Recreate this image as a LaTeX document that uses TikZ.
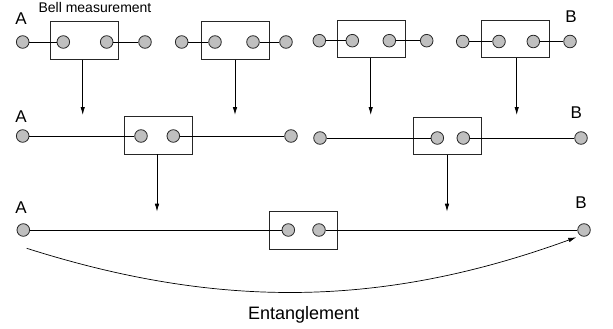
\documentclass[tikz,border=0pt]{standalone}
\usepackage{fontspec}
\setmainfont{Liberation Sans}
\usetikzlibrary{positioning,arrows.meta,calc}

\begin{document}
\begin{tikzpicture}[>={Latex[length=8pt,width=4.5pt]},x=1pt,y=-1pt,line width=0.8pt,
  qubit/.style={circle,draw=black!85,fill=gray!50,minimum size=12.6pt,inner sep=0pt},
  bsm/.style={draw=black!85,minimum width=68pt,minimum height=37.5pt,inner sep=0pt},
  lbl/.style={font=\fontsize{17}{17}\selectfont,anchor=base}]
\useasboundingbox (0,0) rectangle (613,329);

% first row: four pairs, four Bell measurements
\node[bsm] (M1) at (84,40.5) {};
\node[bsm] (M2) at (235.5,40.5) {};
\node[bsm] (M3) at (371.3,39) {};
\node[bsm] (M4) at (515.5,39) {};

\node[qubit] (Q1) at (22.7,42) {};
\node[qubit] (Q2) at (63.3,42) {};
\node[qubit] (Q3) at (106.7,42) {};
\node[qubit] (Q4) at (145,42) {};
\node[qubit] (Q5) at (181.7,42) {};
\node[qubit] (Q6) at (215,42) {};
\node[qubit] (Q7) at (253,42) {};
\node[qubit] (Q8) at (286,42) {};
\node[qubit] (Q9) at (319.3,40.7) {};
\node[qubit] (Q10) at (352.3,40.7) {};
\node[qubit] (Q11) at (389.3,40.7) {};
\node[qubit] (Q12) at (426.7,40.7) {};
\node[qubit] (Q13) at (462.7,41.5) {};
\node[qubit] (Q14) at (499,41.5) {};
\node[qubit] (Q15) at (533.3,41.5) {};
\node[qubit] (Q16) at (570,41.5) {};

\draw (Q1) -- (Q2);
\draw (Q3) -- (Q4);
\draw (Q5) -- (Q6);
\draw (Q7) -- (Q8);
\draw (Q9) -- (Q10);
\draw (Q11) -- (Q12);
\draw (Q13) -- (Q14);
\draw (Q15) -- (Q16);

\node[font=\fontsize{14}{14}\selectfont,anchor=base] (bell) at (95,13) {Bell measurement};
\node[lbl] (A1) at (21,25) {A};
\node[lbl] (B1) at (571,23) {B};

% second row
\node[bsm] (N1) at (158.2,135.3) {};
\node[bsm] (N2) at (447.5,135.7) {};

\node[qubit] (R1) at (22.7,136) {};
\node[qubit] (R2) at (141,136) {};
\node[qubit] (R3) at (173.3,136) {};
\node[qubit] (R4) at (291,136) {};
\node[qubit] (R5) at (320,138) {};
\node[qubit] (R6) at (437.3,138) {};
\node[qubit] (R7) at (463.3,138) {};
\node[qubit] (R8) at (581,138) {};

\draw (R1) -- (R2);
\draw (R3) -- (R4);
\draw (R5) -- (R6);
\draw (R7) -- (R8);

\node[lbl] (A2) at (21,122) {A};
\node[lbl] (B2) at (576.3,118) {B};

\coordinate (T1) at (82.7,115);
\coordinate (T2) at (235,115);
\coordinate (T3) at (370.7,115);
\coordinate (T4) at (516.7,115);
\draw[->] (M1.south -| T1) -- (T1);
\draw[->] (M2.south -| T2) -- (T2);
\draw[->] (M3.south -| T3) -- (T3);
\draw[->] (M4.south -| T4) -- (T4);

% third row
\node[bsm] (K1) at (303.2,230.5) {};

\node[qubit] (S1) at (23.3,230) {};
\node[qubit] (S2) at (288.3,230) {};
\node[qubit] (S3) at (319,230) {};
\node[qubit] (S4) at (584,230) {};

\draw (S1) -- (S2);
\draw (S3) -- (S4);

\node[lbl] (A3) at (21,213) {A};
\node[lbl] (B3) at (581,208) {B};

\coordinate (U1) at (157,211.7);
\coordinate (U2) at (447,211.7);
\draw[->] (N1.south -| U1) -- (U1);
\draw[->] (N2.south -| U2) -- (U2);

% entanglement A to B
\coordinate (E1) at (26.7,248.3);
\coordinate (E2) at (576.3,237.3);
\draw[->,line width=0.7pt] (E1) .. controls (220.7,309.9) and (384.5,307.1) .. (E2);
\node[font=\fontsize{18}{18}\selectfont,anchor=base] (ent) at (303.7,319) {Entanglement};
\end{tikzpicture}
\end{document}
